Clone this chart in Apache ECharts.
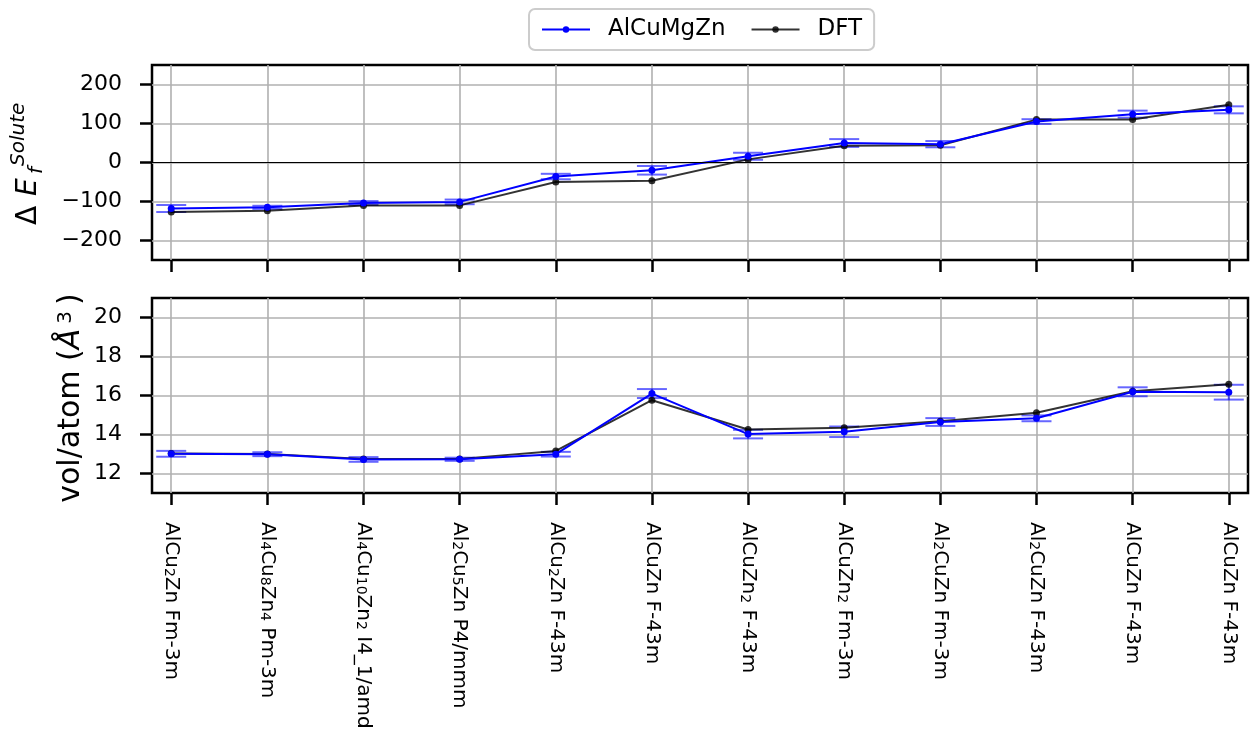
<!DOCTYPE html>
<html>
<head>
<meta charset="utf-8">
<script src="https://cdn.jsdelivr.net/npm/echarts@6/dist/echarts.min.js"></script>
<style>
  html, body { margin: 0; padding: 0; background: #fff; }
  #chart { width: 1250px; height: 733px; }
</style>
</head>
<body>
<div id="chart"></div>
<script>
// Structures (composition + space group); {s|..} marks a subscript
const categories = [
  'AlCu{s|2}Zn Fm-3m', 'Al{s|4}Cu{s|8}Zn{s|4} Pm-3m', 'Al{s|4}Cu{s|10}Zn{s|2} I4_1/amd', 'Al{s|2}Cu{s|5}Zn P4/mmm',
  'AlCu{s|2}Zn F-43m', 'AlCuZn F-43m', 'AlCuZn{s|2} F-43m', 'AlCuZn{s|2} Fm-3m',
  'Al{s|2}CuZn Fm-3m', 'Al{s|2}CuZn F-43m', 'AlCuZn F-43m', 'AlCuZn F-43m'
];

// Solute formation energy difference
const formEModel    = [-118, -115, -104, -101, -36, -20, 16, 50, 47, 105, 124, 135];
const formEModelErr = [9, 4, 5, 6, 7, 11, 9, 10, 8, 6, 9, 9];
const formEDft      = [-127, -124, -110, -110, -50, -47, 8, 43, 44, 110, 110, 148];

// Volume per atom
const volModel    = [13.01, 12.99, 12.72, 12.73, 12.99, 16.10, 14.02, 14.14, 14.64, 14.83, 16.19, 16.17];
const volModelErr = [0.15, 0.10, 0.12, 0.08, 0.12, 0.23, 0.22, 0.27, 0.20, 0.15, 0.23, 0.38];
const volDft      = [13.02, 13.00, 12.75, 12.75, 13.16, 15.76, 14.26, 14.35, 14.68, 15.12, 16.22, 16.58];

// Tick labels
const formETicks = [-200, -100, 0, 100, 200];
const volTicks = [12, 14, 16, 18, 20];

const FONT = 'DejaVu Sans';
const catIdx = categories.map((_, i) => i);
const pairs = (vals) => vals.map((v, i) => [i, v]);
const triples = (vals, errs) => vals.map((v, i) => [i, v, errs[i]]);

const MODEL_COLOR = '#0000ff';
const DFT_COLOR = 'rgba(0,0,0,0.8)';
const ERR_COLOR = 'rgba(0,0,255,0.6)';
const GRID_LINE = { show: true, lineStyle: { color: '#b0b0b0', width: 1.6 } };
const TICK = (vals) => ({ show: true, customValues: vals, length: 12, inside: false,
  lineStyle: { color: '#000', width: 2.5 } });

function errorBars(params, api) {
  const x = api.value(0), y = api.value(1), e = api.value(2);
  const hi = api.coord([x, y + e]);
  const lo = api.coord([x, y - e]);
  const hw = 15;
  const style = { stroke: ERR_COLOR, lineWidth: 2, fill: null };
  return {
    type: 'group',
    children: [
      { type: 'line', shape: { x1: hi[0], y1: hi[1], x2: lo[0], y2: lo[1] }, style },
      { type: 'line', shape: { x1: hi[0] - hw, y1: hi[1], x2: hi[0] + hw, y2: hi[1] }, style },
      { type: 'line', shape: { x1: lo[0] - hw, y1: lo[1], x2: lo[0] + hw, y2: lo[1] }, style }
    ]
  };
}

function lineSeries(name, color, data, xi, extra) {
  return Object.assign({
    name, type: 'line', xAxisIndex: xi, yAxisIndex: xi, data,
    symbol: 'circle', symbolSize: 7,
    itemStyle: { color },
    lineStyle: { color, width: 2 },
    z: name === 'AlCuMgZn' ? 4 : 3
  }, extra || {});
}

function errSeries(name, data, xi) {
  return {
    name, type: 'custom', xAxisIndex: xi, yAxisIndex: xi,
    renderItem: errorBars, data, encode: { x: 0, y: 1 }, z: 2
  };
}

function xAxis(gridIndex, withLabels) {
  return {
    type: 'value', gridIndex, min: -0.2, max: 11.2,
    axisLine: { show: false, onZero: false },
    axisTick: TICK(catIdx),
    axisLabel: withLabels ? {
      show: true, customValues: catIdx, rotate: -90, margin: 29,
      fontFamily: FONT, fontSize: 20, color: '#000',
      formatter: (v) => categories[Math.round(v)],
      rich: {
        s: { fontFamily: FONT, fontSize: 14, color: '#000', verticalAlign: 'bottom', lineHeight: 6 }
      }
    } : { show: false, customValues: catIdx },
    splitLine: GRID_LINE
  };
}

function yAxis(gridIndex, min, max, ticks) {
  return {
    type: 'value', gridIndex, min, max,
    axisLine: { show: false, onZero: false },
    axisTick: TICK(ticks),
    axisLabel: { customValues: ticks, margin: 30, fontFamily: FONT, fontSize: 22, color: '#000',
      formatter: (v) => String(v).replace('-', '\u2212') },
    splitLine: GRID_LINE
  };
}

const gridStyle = { show: true, borderColor: '#000', borderWidth: 2.5, backgroundColor: 'transparent' };

const option = {
  animation: false,
  backgroundColor: '#fff',
  textStyle: { fontFamily: FONT },
  legend: {
    data: ['AlCuMgZn', 'DFT'],
    left: 529, top: 9,
    padding: [9, 12],
    itemGap: 25, itemWidth: 48, itemHeight: 8,
    borderColor: '#cccccc', borderWidth: 2, borderRadius: 6,
    textStyle: { fontFamily: FONT, fontSize: 23, color: '#000', padding: [0, 0, 0, 13] }
  },
  grid: [
    Object.assign({ left: 152, right: 2, top: 65, height: 195 }, gridStyle),
    Object.assign({ left: 152, right: 2, top: 298, height: 195 }, gridStyle)
  ],
  xAxis: [xAxis(0, false), xAxis(1, true)],
  yAxis: [yAxis(0, -250, 250, formETicks), yAxis(1, 11, 21, volTicks)],
  graphic: [
    {
      type: 'group', x: 39, y: 225, rotation: Math.PI / 2,
      children: [
        { type: 'text', x: 0, y: 4, style: { text: 'Δ', fontFamily: FONT, fontSize: 28, fill: '#000', align: 'left', verticalAlign: 'bottom' } },
        { type: 'text', x: 29, y: 4, style: { text: 'E', fontFamily: FONT, fontStyle: 'italic', fontSize: 28, fill: '#000', align: 'left', verticalAlign: 'bottom' } },
        { type: 'text', x: 51, y: 8, style: { text: 'f', fontFamily: FONT, fontStyle: 'italic', fontSize: 20, fill: '#000', align: 'left', verticalAlign: 'bottom' } },
        { type: 'text', x: 59, y: -10, style: { text: 'Solute', fontFamily: FONT, fontStyle: 'italic', fontSize: 20, fill: '#000', align: 'left', verticalAlign: 'bottom' } }
      ]
    },
    {
      type: 'group', x: 86, y: 398, rotation: Math.PI / 2,
      children: [
        { type: 'text', x: 0, y: 0, style: {
          text: 'vol/atom ({a|Å}{s|3})',
          fontFamily: FONT, fontSize: 30, fill: '#000', align: 'center', verticalAlign: 'bottom',
          rich: {
            a: { fontFamily: FONT, fontStyle: 'italic', fontSize: 30, fill: '#000' },
            s: { fontFamily: FONT, fontSize: 20, fill: '#000', verticalAlign: 'top', padding: [0, 6, 0, 5] }
          }
        } }
      ]
    }
  ],
  series: [
    lineSeries('DFT', DFT_COLOR, pairs(formEDft), 0, {
      markLine: {
        silent: true, symbol: 'none', label: { show: false },
        lineStyle: { color: '#000', width: 1, type: 'solid' },
        data: [{ yAxis: 0 }]
      }
    }),
    errSeries('AlCuMgZn error', triples(formEModel, formEModelErr), 0),
    lineSeries('AlCuMgZn', MODEL_COLOR, pairs(formEModel), 0),
    lineSeries('DFT', DFT_COLOR, pairs(volDft), 1),
    errSeries('AlCuMgZn error', triples(volModel, volModelErr), 1),
    lineSeries('AlCuMgZn', MODEL_COLOR, pairs(volModel), 1)
  ]
};

const chart = echarts.init(document.getElementById('chart'), null, { renderer: 'canvas' });
chart.setOption(option);
</script>
</body>
</html>
